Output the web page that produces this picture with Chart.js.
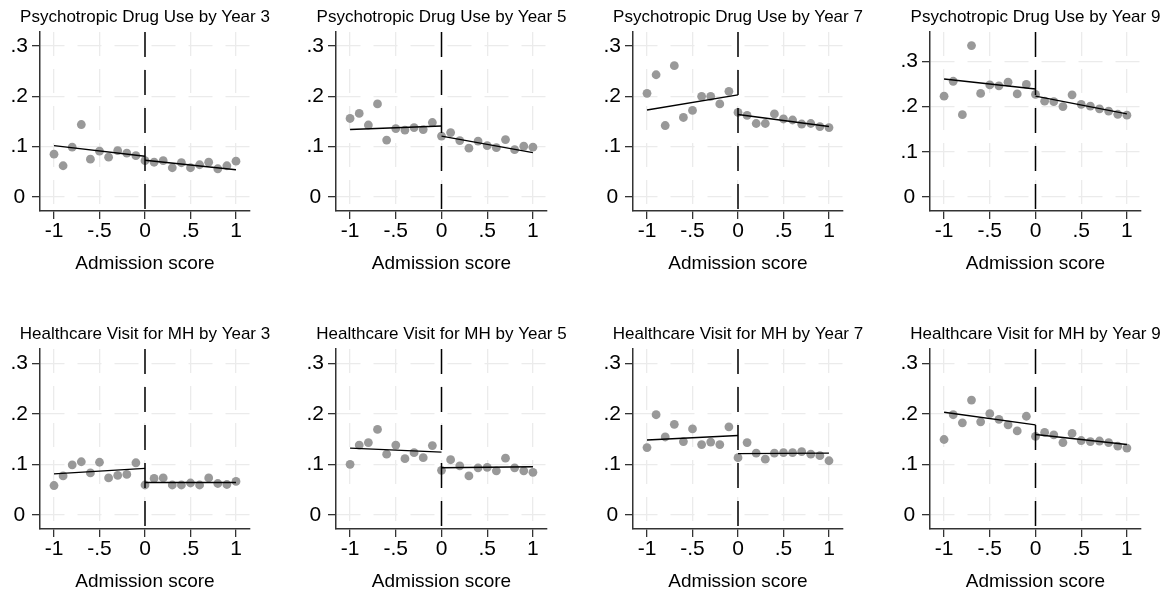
<!DOCTYPE html>
<html>
<head>
<meta charset="utf-8">
<script src="https://cdn.jsdelivr.net/npm/chart.js@4.4.0/dist/chart.umd.min.js"></script>
<style>
  body { margin: 0; background: #fff; }
  #wrap { position: relative; width: 1173px; height: 592px; overflow: hidden; background: #fff; }
  #wrap canvas { position: absolute; }
</style>
</head>
<body>
<div id="wrap"></div>
<script>
// bins of the admission score (centred on the cutoff)
const scores = [-1, -0.9, -0.8, -0.7, -0.6, -0.5, -0.4, -0.3, -0.2, -0.1, 0, 0.1, 0.2, 0.3, 0.4, 0.5, 0.6, 0.7, 0.8, 0.9, 1];
const cutoff = 0;
const xTicks = [-1, -0.5, 0, 0.5, 1];
const xTickLabels = ['-1', '-.5', '0', '.5', '1'];
const yTicks = [0, 0.1, 0.2, 0.3];
const yTickLabels = ['0', '.1', '.2', '.3'];

// binned means
const drugY3 = [0.085, 0.062, 0.099, 0.144, 0.075, 0.091, 0.079, 0.092, 0.087, 0.082, 0.072, 0.069, 0.072, 0.058, 0.068, 0.058, 0.064, 0.069, 0.056, 0.062, 0.071];
const drugY5 = [0.156, 0.166, 0.143, 0.185, 0.113, 0.136, 0.133, 0.138, 0.134, 0.148, 0.121, 0.128, 0.112, 0.097, 0.111, 0.102, 0.098, 0.114, 0.094, 0.101, 0.099];
const drugY7 = [0.206, 0.243, 0.142, 0.261, 0.158, 0.172, 0.200, 0.200, 0.185, 0.210, 0.168, 0.162, 0.146, 0.146, 0.165, 0.155, 0.153, 0.145, 0.146, 0.140, 0.138];
const drugY9 = [0.223, 0.256, 0.182, 0.335, 0.229, 0.248, 0.246, 0.254, 0.228, 0.249, 0.227, 0.212, 0.211, 0.200, 0.226, 0.205, 0.201, 0.195, 0.190, 0.183, 0.181];
const visitY3 = [0.058, 0.077, 0.099, 0.105, 0.083, 0.104, 0.073, 0.078, 0.080, 0.103, 0.059, 0.072, 0.073, 0.059, 0.059, 0.063, 0.059, 0.073, 0.062, 0.060, 0.066];
const visitY5 = [0.100, 0.138, 0.143, 0.169, 0.120, 0.138, 0.111, 0.123, 0.113, 0.137, 0.088, 0.109, 0.097, 0.077, 0.093, 0.094, 0.087, 0.112, 0.093, 0.087, 0.084];
const visitY7 = [0.133, 0.198, 0.154, 0.179, 0.145, 0.170, 0.139, 0.144, 0.139, 0.174, 0.113, 0.143, 0.122, 0.110, 0.122, 0.123, 0.123, 0.125, 0.120, 0.117, 0.107];
const visitY9 = [0.149, 0.198, 0.182, 0.227, 0.184, 0.200, 0.189, 0.178, 0.166, 0.195, 0.155, 0.163, 0.158, 0.143, 0.161, 0.147, 0.145, 0.146, 0.143, 0.136, 0.132];

// linear fits: [left at -1, left at cutoff, right at cutoff, right at 1]
const drugY3Fit = [0.102, 0.081, 0.073, 0.054];
const drugY5Fit = [0.134, 0.141, 0.121, 0.088];
const drugY7Fit = [0.173, 0.203, 0.164, 0.140];
const drugY9Fit = [0.261, 0.239, 0.223, 0.184];
const visitY3Fit = [0.081, 0.092, 0.064, 0.064];
const visitY5Fit = [0.132, 0.124, 0.093, 0.095];
const visitY7Fit = [0.148, 0.157, 0.121, 0.122];
const visitY9Fit = [0.203, 0.178, 0.159, 0.139];

const panels = [
    { title: 'Psychotropic Drug Use by Year 3', values: drugY3, fit: drugY3Fit, yMin: -0.028, yMax: 0.328 },
    { title: 'Psychotropic Drug Use by Year 5', values: drugY5, fit: drugY5Fit, yMin: -0.028, yMax: 0.328 },
    { title: 'Psychotropic Drug Use by Year 7', values: drugY7, fit: drugY7Fit, yMin: -0.028, yMax: 0.328 },
    { title: 'Psychotropic Drug Use by Year 9', values: drugY9, fit: drugY9Fit, yMin: -0.031, yMax: 0.365 },
    { title: 'Healthcare Visit for MH by Year 3', values: visitY3, fit: visitY3Fit, yMin: -0.028, yMax: 0.328 },
    { title: 'Healthcare Visit for MH by Year 5', values: visitY5, fit: visitY5Fit, yMin: -0.028, yMax: 0.328 },
    { title: 'Healthcare Visit for MH by Year 7', values: visitY7, fit: visitY7Fit, yMin: -0.028, yMax: 0.328 },
    { title: 'Healthcare Visit for MH by Year 9', values: visitY9, fit: visitY9Fit, yMin: -0.028, yMax: 0.328 },
];

const plotLeft = [40, 336, 633, 930];
const plotRight = [250, 547, 843, 1141];
const rowTop = [0, 317];
const rowHeight = [292, 275];
const plotBottom = [211, 212];
const yAxisWidth = 40;
const xAxisHeight = 64;
const titleHeight = 32;

const FONT = "'Liberation Sans', Arial, sans-serif";
const AXIS = '#333333';

const makePanel = (panel, index) => {
    const col = index % 4;
    const row = Math.floor(index / 4);
    const plotWidth = plotRight[col] - plotLeft[col];
    // symmetric canvas (empty axis on the right) so the title is centred over the plot
    const width = plotWidth + 2 * yAxisWidth;
    const height = rowHeight[row];
    const canvas = document.createElement('canvas');
    canvas.width = width;
    canvas.height = height;
    canvas.style.left = (plotLeft[col] - yAxisWidth) + 'px';
    canvas.style.top = rowTop[row] + 'px';
    document.getElementById('wrap').appendChild(canvas);

    const first = scores[0];
    const last = scores[scores.length - 1];

    new Chart(canvas, {
        type: 'scatter',
        data: {
            datasets: [
                {
                    // cutoff line, drawn top to bottom so the dashes start at the top
                    type: 'line',
                    data: [{ x: cutoff, y: panel.yMax }, { x: cutoff, y: panel.yMin }],
                    borderColor: '#000',
                    borderWidth: 1.5,
                    borderDash: [25, 13],
                    pointRadius: 0,
                    order: 0
                },
                {
                    type: 'line',
                    data: [{ x: first, y: panel.fit[0] }, { x: cutoff, y: panel.fit[1] }],
                    borderColor: '#000',
                    borderWidth: 1.4,
                    pointRadius: 0,
                    order: 1
                },
                {
                    type: 'line',
                    data: [{ x: cutoff, y: panel.fit[2] }, { x: last, y: panel.fit[3] }],
                    borderColor: '#000',
                    borderWidth: 1.4,
                    pointRadius: 0,
                    order: 1
                },
                {
                    data: scores.map((x, i) => ({ x: x, y: panel.values[i] })),
                    backgroundColor: '#999999',
                    borderWidth: 0,
                    pointRadius: 4.4,
                    order: 2
                }
            ]
        },
        options: {
            responsive: false,
            animation: false,
            devicePixelRatio: 1,
            events: [],
            layout: {
                padding: { top: 0, left: 0, right: 0, bottom: height - plotBottom[row] - xAxisHeight }
            },
            plugins: {
                legend: { display: false },
                tooltip: { enabled: false },
                title: {
                    display: true,
                    text: panel.title,
                    color: '#000',
                    font: { family: FONT, size: 17, weight: 'normal', lineHeight: 1.2 },
                    padding: { top: 7, bottom: titleHeight - 7 - 20.4 }
                }
            },
            scales: {
                x: {
                    type: 'linear',
                    min: -1.154,
                    max: 1.154,
                    afterBuildTicks: scale => { scale.ticks = xTicks.map(v => ({ value: v })); },
                    afterFit: scale => { scale.height = xAxisHeight; },
                    ticks: {
                        color: '#000',
                        padding: 0,
                        maxRotation: 0,
                        font: { family: FONT, size: 21 },
                        callback: (value, i) => xTickLabels[i]
                    },
                    grid: { color: '#ebebeb', lineWidth: 1.3, tickColor: AXIS, tickLength: 8, tickWidth: 1.3 },
                    border: { display: true, color: AXIS, width: 1.5, dash: [24, 13] },
                    title: {
                        display: true,
                        text: 'Admission score',
                        color: '#000',
                        font: { family: FONT, size: 19 },
                        padding: { top: 4, bottom: 0 }
                    }
                },
                y: {
                    type: 'linear',
                    min: panel.yMin,
                    max: panel.yMax,
                    afterBuildTicks: scale => { scale.ticks = yTicks.map(v => ({ value: v })); },
                    afterFit: scale => { scale.width = yAxisWidth; },
                    ticks: {
                        color: '#000',
                        padding: 4,
                        crossAlign: 'center',
                        font: { family: FONT, size: 21 },
                        callback: (value, i) => yTickLabels[i]
                    },
                    grid: { color: '#ebebeb', lineWidth: 1.3, tickColor: AXIS, tickLength: 8, tickWidth: 1.3 },
                    border: { display: true, color: AXIS, width: 1.5, dash: [24, 13] }
                },
                spacer: {
                    type: 'linear',
                    position: 'right',
                    afterFit: scale => { scale.width = yAxisWidth; },
                    ticks: { display: false },
                    grid: { display: false, drawTicks: false },
                    border: { display: false }
                }
            }
        }
    });
};

panels.forEach(makePanel);
</script>
</body>
</html>
